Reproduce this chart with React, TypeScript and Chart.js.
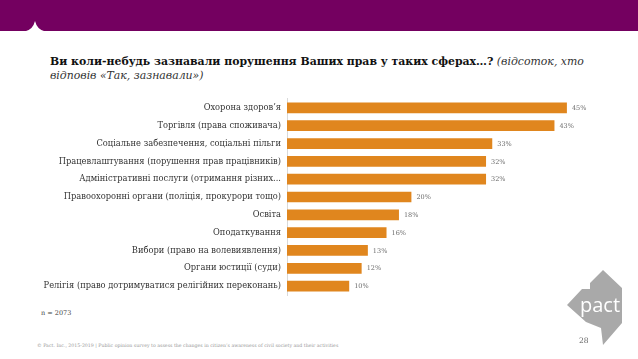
import React, { useEffect, useRef } from "react";
import { Chart, registerables } from "chart.js";

Chart.register(...registerables);

const categories = [
  "Охорона здоров’я",
  "Торгівля (права споживача)",
  "Соціальне забезпечення, соціальні пільги",
  "Працевлаштування (порушення прав працівників)",
  "Адміністративні послуги (отримання різних...",
  "Правоохоронні органи (поліція, прокурори тощо)",
  "Освіта",
  "Оподаткування",
  "Вибори (право на волевиявлення)",
  "Органи юстиції (суди)",
  "Релігія (право дотримуватися релігійних переконань)",
];
const values = [45, 43, 33, 32, 32, 20, 18, 16, 13, 12, 10];

const SERIF = "'DejaVu Serif', 'Liberation Serif', serif";

const labelPlugin = {
  id: "barLabels",
  afterDatasetsDraw(chart: any) {
    const ctx = chart.ctx;
    const meta = chart.getDatasetMeta(0);
    ctx.save();
    ctx.font = "6.5px " + SERIF;
    ctx.fillStyle = "#6b6b6b";
    ctx.textAlign = "left";
    ctx.textBaseline = "middle";
    meta.data.forEach((bar: any, i: number) => {
      ctx.fillText(values[i] + "%", bar.x + 5, bar.y + 0.5);
    });
    ctx.restore();
  },
};

export default function App() {
  const ref = useRef<HTMLCanvasElement>(null);
  useEffect(() => {
    document.body.style.margin = "0";
    const chart = new Chart(ref.current!, {
      type: "bar",
      data: {
        labels: categories,
        datasets: [
          {
            data: values,
            backgroundColor: "#E0861E",
            borderWidth: 0,
            categoryPercentage: 1,
            barPercentage: 0.6,
          },
        ],
      },
      options: {
        indexAxis: "y",
        animation: false,
        responsive: false,
        maintainAspectRatio: false,
        layout: { padding: { top: 6, bottom: 6, right: 22, left: 0 } },
        plugins: { legend: { display: false }, tooltip: { enabled: false } },
        scales: {
          x: { display: false, min: 0, max: 50 },
          y: {
            afterFit(scale: any) {
              scale.width = 287;
            },
            grid: { display: false, drawTicks: false },
            border: { display: true, color: "#d9d9d9", width: 1 },
            ticks: {
              padding: 6,
              color: "#333333",
              font: { family: SERIF, size: 8.3 },
            },
          },
        },
      },
      plugins: [labelPlugin],
    });
    return () => chart.destroy();
  }, []);

  return (
    <div
      style={{
        position: "fixed",
        left: 0,
        top: 0,
        width: 638,
        height: 359,
        background: "#ffffff",
        overflow: "hidden",
        fontFamily: SERIF,
      }}
    >
      <svg
        width={638}
        height={40}
        style={{ position: "absolute", left: 0, top: 0 }}
      >
        <rect x={0} y={0} width={638} height={31} fill="#740060" />
        <path d="M26 31 Q33 29 35 21 Q37 29 44 31 Z" fill="#ffffff" />
      </svg>
      <div
        style={{
          position: "absolute",
          left: 50,
          top: 55,
          width: 580,
          fontSize: 10.9,
          lineHeight: "14px",
          color: "#111111",
          whiteSpace: "nowrap",
        }}
      >
        <b>Ви коли-небудь зазнавали порушення Ваших прав у таких сферах…?</b>{" "}
        <i style={{ color: "#333" }}>(відсоток, хто</i>
        <br />
        <i style={{ color: "#333" }}>відповів «Так, зазнавали»)</i>
      </div>
      <canvas
        ref={ref}
        width={620}
        height={218}
        style={{ position: "absolute", left: 0, top: 88, width: 620, height: 218 }}
      />
      <div
        style={{
          position: "absolute",
          left: 41,
          top: 309,
          fontSize: 6.5,
          color: "#444",
        }}
      >
        n = 2073
      </div>
      <div
        style={{
          position: "absolute",
          left: 37,
          top: 343,
          fontSize: 4.7,
          color: "#999",
          whiteSpace: "nowrap",
        }}
      >
        © Pact. Inc., 2015-2019 | Public opinion survey to assess the changes in citizen’s awareness of civil society and their activities
      </div>
      <svg
        width={80}
        height={100}
        style={{ position: "absolute", left: 560, top: 262 }}
      >
        <polygon
          points="43,8 62,26 62,61 43,83 41,66 26,60 7,43 22,27 30,27 30,21"
          fill="#a9a9a9"
        />
        <text
          x={40}
          y={50}
          textAnchor="middle"
          fill="#ffffff"
          fontFamily="'Open Sans', 'DejaVu Sans', sans-serif"
          fontSize={20}
        >
          pact
        </text>
      </svg>
      <div
        style={{
          position: "absolute",
          left: 579,
          top: 336,
          fontSize: 7.5,
          color: "#666",
        }}
      >
        28
      </div>
    </div>
  );
}
